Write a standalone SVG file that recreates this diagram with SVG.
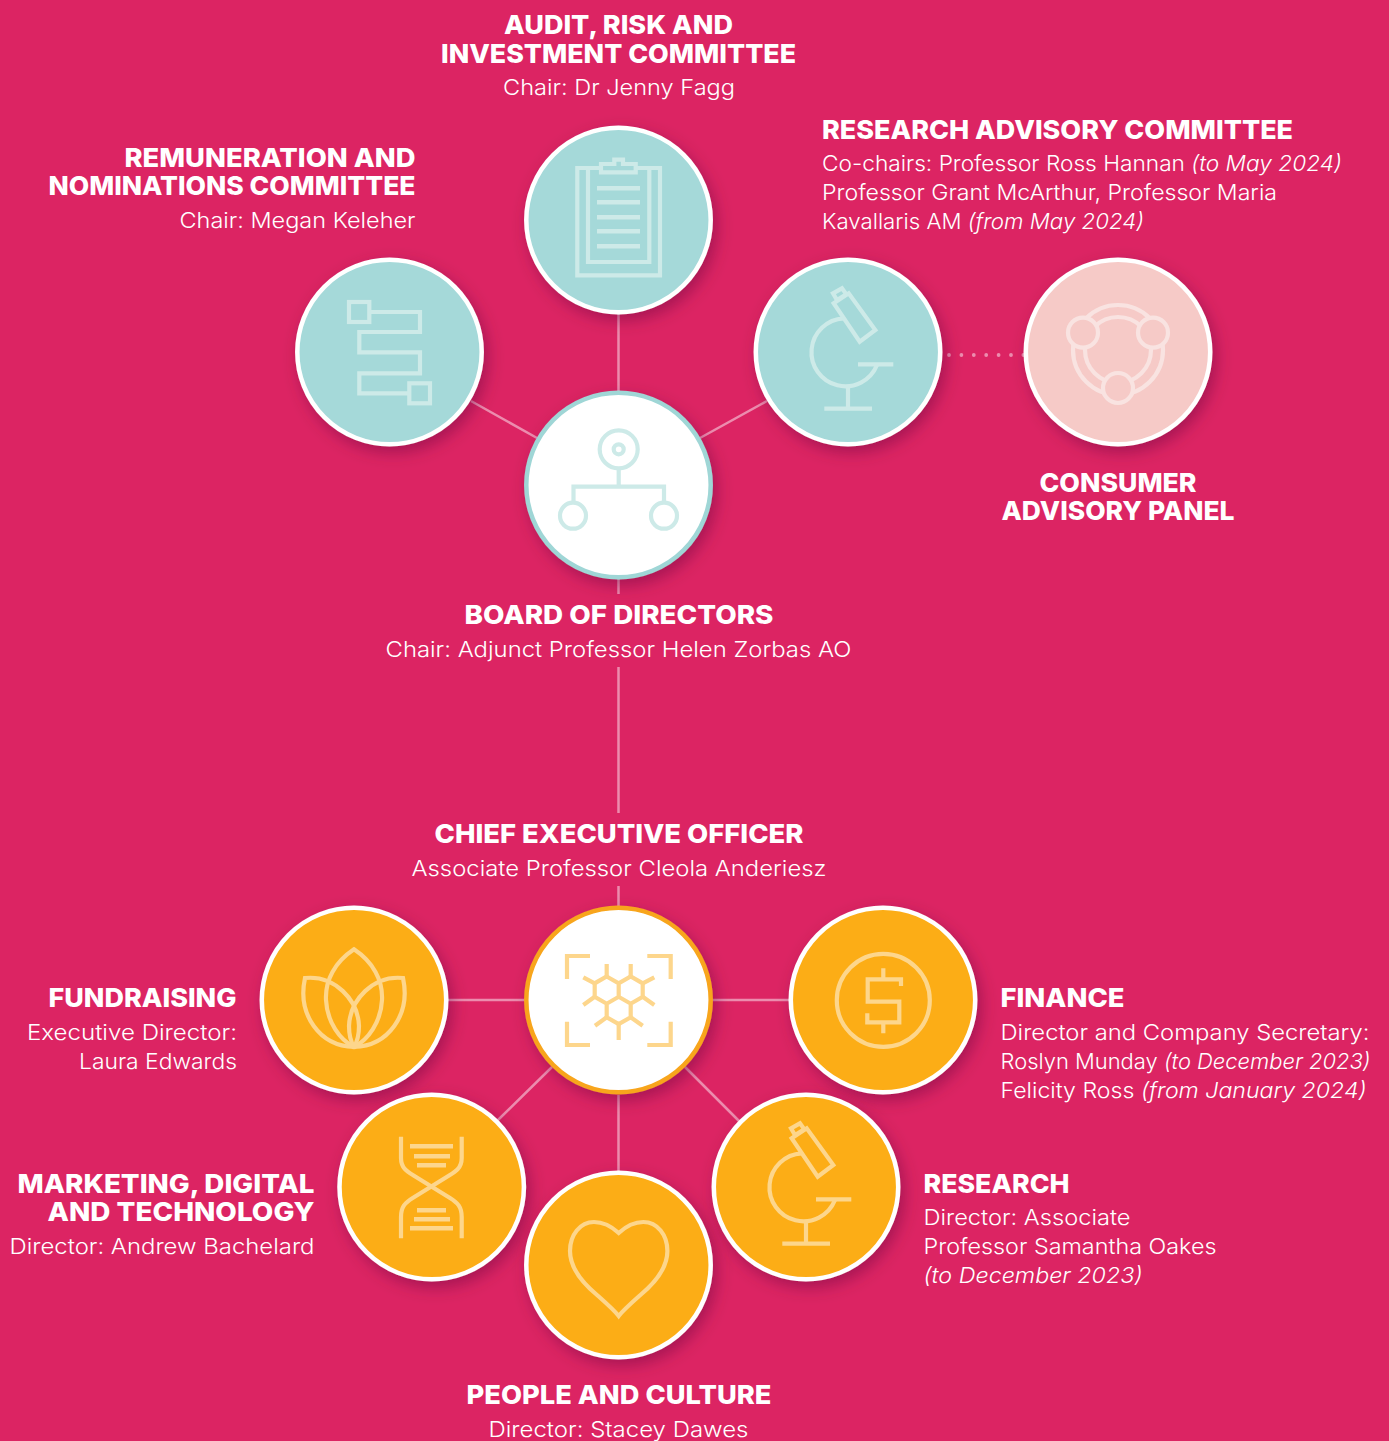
<svg xmlns="http://www.w3.org/2000/svg" xmlns:xlink="http://www.w3.org/1999/xlink" width="1389" height="1441" viewBox="0 0 1389 1441">
<style>
.h{font-family:Inter,"Liberation Sans",sans-serif;font-weight:800;font-size:26px;fill:#fff}
.b{font-family:Inter,"Liberation Sans",sans-serif;font-weight:300;font-size:22px;fill:#fff}
.i{font-style:italic}
.m{text-anchor:middle}.e{text-anchor:end}
.disc{stroke-width:4.500;filter:url(#sh)}
.teal{fill:#a5d9d9;stroke:#fff}.peach{fill:#f6cac7;stroke:#fff}.orange{fill:#fcad17;stroke:#fff}
.bw{fill:#fff;stroke:#9fd6d6}.co{fill:#fff;stroke:#f8a51b}
.icon{fill:none;stroke-width:4.200}
.it{stroke:#cdeae8}.ip{stroke:#f9e3e1}.io{stroke:#fdd68c}
.line{stroke:#ec8cae;stroke-width:2.500;fill:none}
.dot{stroke:#ec8cae;stroke-width:3.800;stroke-linecap:round;stroke-dasharray:0 12.400;fill:none}
</style>
<defs>
<filter id="sh" x="-30%" y="-30%" width="170%" height="170%"><feDropShadow dx="4" dy="6" stdDeviation="8" flood-color="#5a0f3a" flood-opacity="0.42"/></filter>
<g id="scope">
<path d="M-14.300-48.700L.7-58.700 27.300-22 11.700-10.300Z"/>
<path d="M-15-58.700L-6-63.700-1.700-57.700-11-52Z"/>
<path d="M-4.300-33.700A34 34 0 1 0 29 13"/>
<path d="M10 12.300H45.300M0 34V56.700M-23.700 56.700H24"/>
</g>
</defs>
<rect width="1389" height="1441" fill="#dc2463"/>
<g id="connectors">
<path class="line" d="M618.500 314V392M471 401L537 438M767 401L700 438M618.500 578V594M618.500 667V813M618.500 886V907M448 1000H525M712 1000H790M552 1067L498 1120M685 1067L739 1121M618.500 1095V1171"/>
<path class="dot" d="M949 355H1025"/>
</g>
<g id="audit">
<circle class="disc teal" cx="618.500" cy="220" r="92.200"/>
<g class="icon it">
<path d="M588 170V262H649.300V170M601 168H577.300V275.300H660V168H635.700"/>
<path d="M601 164H614.300V159.700H623V164H635.700V172.300H601Z"/>
<path stroke-width="4.500" d="M597 188.300H640M597 202.300H640M597 217.300H640M597 231.300H640M597 246.300H640"/>
</g>
<text class="h m" x="618.500" y="34" textLength="229" lengthAdjust="spacingAndGlyphs">AUDIT, RISK AND</text>
<text class="h m" x="618.500" y="63" textLength="355" lengthAdjust="spacingAndGlyphs">INVESTMENT COMMITTEE</text>
<text class="b m" x="619" y="95" textLength="232" lengthAdjust="spacingAndGlyphs">Chair: Dr Jenny Fagg</text>
</g>
<g id="remuneration">
<circle class="disc teal" cx="389.500" cy="352" r="92.200"/>
<g class="icon it">
<rect x="349" y="302" width="20.300" height="20"/>
<rect x="409.300" y="383.300" width="20.700" height="20"/>
<path d="M369.300 312H420V332H359.300V352.300H420V373.300H359.300V393.300H409.300"/>
</g>
<text class="h e" x="415.500" y="167" textLength="291" lengthAdjust="spacingAndGlyphs">REMUNERATION AND</text>
<text class="h e" x="415.500" y="195" textLength="367" lengthAdjust="spacingAndGlyphs">NOMINATIONS COMMITTEE</text>
<text class="b e" x="415.500" y="228" textLength="236" lengthAdjust="spacingAndGlyphs">Chair: Megan Keleher</text>
</g>
<g id="research-advisory">
<circle class="disc teal" cx="848" cy="352" r="92.200"/>
<use href="#scope" x="848" y="352" class="icon it"/>
<text class="h" x="822" y="139" textLength="471" lengthAdjust="spacingAndGlyphs">RESEARCH ADVISORY COMMITTEE</text>
<text class="b" x="822" y="171" textLength="520" lengthAdjust="spacingAndGlyphs">Co-chairs: Professor Ross Hannan <tspan class="i">(to May 2024)</tspan></text>
<text class="b" x="822" y="200" textLength="455" lengthAdjust="spacingAndGlyphs">Professor Grant McArthur, Professor Maria</text>
<text class="b" x="822" y="229" textLength="322" lengthAdjust="spacingAndGlyphs">Kavallaris AM <tspan class="i">(from May 2024)</tspan></text>
</g>
<g id="consumer">
<circle class="disc peach" cx="1118" cy="352" r="92.200"/>
<g class="icon ip">
<circle cx="1118" cy="350" r="45"/>
<circle cx="1118" cy="350" r="33"/>
<circle cx="1083" cy="332.700" r="15" fill="#f6cac7"/>
<circle cx="1153" cy="332.700" r="15" fill="#f6cac7"/>
<circle cx="1118" cy="388" r="15" fill="#f6cac7"/>
</g>
<text class="h m" x="1118" y="492" textLength="157" lengthAdjust="spacingAndGlyphs">CONSUMER</text>
<text class="h m" x="1118" y="520" textLength="233" lengthAdjust="spacingAndGlyphs">ADVISORY PANEL</text>
</g>
<g id="board">
<circle class="disc bw" cx="618.500" cy="485" r="92.200"/>
<g class="icon it">
<circle cx="618.700" cy="449.300" r="19"/>
<circle cx="618.700" cy="449.300" r="5"/>
<path d="M618.700 468.300V486.700M573.500 502V486.700H664V502"/>
<circle cx="573" cy="515.700" r="13"/>
<circle cx="664" cy="515.700" r="13"/>
</g>
<text class="h m" x="619" y="624" textLength="309" lengthAdjust="spacingAndGlyphs">BOARD OF DIRECTORS</text>
<text class="b m" x="618.500" y="657" textLength="466" lengthAdjust="spacingAndGlyphs">Chair: Adjunct Professor Helen Zorbas AO</text>
</g>
<g id="ceo">
<circle class="disc co" cx="618.500" cy="1000" r="92.200"/>
<g class="icon io">
<path d="M590 956H567V979M647.300 956H670.700V979M590 1045H567V1021.700M647.300 1045H670.700V1021.700"/>
<path d="M606.700 976.500L618.700 983.300 630.700 976.500 642.700 983.300V996.800L630.700 1003.700 618.700 996.800 606.700 1003.700 594.700 996.800V983.300ZM618.700 983.300V996.800M606.700 1003.700V1017.300L618.700 1024 630.700 1017.300V1003.700"/>
<path d="M606.700 976.500V964M630.700 976.500V964M594.700 983.300L583.300 977.300M642.700 983.300L654.300 977.300M594.700 996.800L583.300 1005M642.700 996.800L654.300 1005M606.700 1017.300L595 1025.700M630.700 1017.300L642.700 1025.700M618.700 1024V1040"/>
</g>
<text class="h m" x="619" y="843" textLength="369" lengthAdjust="spacingAndGlyphs">CHIEF EXECUTIVE OFFICER</text>
<text class="b m" x="619" y="876" textLength="415" lengthAdjust="spacingAndGlyphs">Associate Professor Cleola Anderiesz</text>
</g>
<g id="fundraising">
<circle class="disc orange" cx="354" cy="1000" r="92.200"/>
<g class="icon io">
<path d="M354 949.300C335 962 325 980 326 1000C327 1022 340 1040 354 1047C368 1040 381 1022 382 1000C383 980 373 962 354 949.300Z"/>
<path d="M354 1047C320 1046 297 1015 305 978C335 975 358 1000 359 1026C359 1035 357 1042 354 1047Z"/>
<path d="M354 1047C388 1046 411 1015 403 978C373 975 350 1000 349 1026C349 1035 351 1042 354 1047Z"/>
</g>
<text class="h e" x="236.500" y="1007" textLength="188" lengthAdjust="spacingAndGlyphs">FUNDRAISING</text>
<text class="b e" x="237" y="1040" textLength="210" lengthAdjust="spacingAndGlyphs">Executive Director:</text>
<text class="b e" x="237" y="1069" textLength="158" lengthAdjust="spacingAndGlyphs">Laura Edwards</text>
</g>
<g id="finance">
<circle class="disc orange" cx="883" cy="1000" r="92.200"/>
<g class="icon io">
<circle cx="883.300" cy="1000.300" r="46.500"/>
<path d="M901 986V979.300H867.700V1001.700H899.300V1022.300H867.300V1013.300M883.300 968.300V979.300M883.300 1022.300V1033.300"/>
</g>
<text class="h" x="1000.500" y="1007" textLength="124" lengthAdjust="spacingAndGlyphs">FINANCE</text>
<text class="b" x="1000.500" y="1040" textLength="369" lengthAdjust="spacingAndGlyphs">Director and Company Secretary:</text>
<text class="b" x="1000.500" y="1069" textLength="370" lengthAdjust="spacingAndGlyphs">Roslyn Munday <tspan class="i">(to December 2023)</tspan></text>
<text class="b" x="1000.500" y="1098" textLength="366" lengthAdjust="spacingAndGlyphs">Felicity Ross <tspan class="i">(from January 2024)</tspan></text>
</g>
<g id="marketing">
<circle class="disc orange" cx="431.700" cy="1187" r="92.200"/>
<g class="icon io">
<path d="M401 1136.700V1158C401 1168 407 1171.500 414 1175.800L450 1198C458 1203 461.700 1207 461.700 1217V1238.300"/>
<path d="M461.700 1136.700V1158C461.700 1168 455.700 1171.500 448.700 1175.800L412.700 1198C404.700 1203 401 1207 401 1217V1238.300"/>
<path stroke-width="4.500" d="M410 1146.300H453M414 1156.300H450M417 1165.300H446M417 1210.300H446M414 1219.300H450M410 1228.300H453"/>
</g>
<text class="h e" x="314.500" y="1193" textLength="297" lengthAdjust="spacingAndGlyphs">MARKETING, DIGITAL</text>
<text class="h e" x="314.500" y="1221" textLength="267" lengthAdjust="spacingAndGlyphs">AND TECHNOLOGY</text>
<text class="b e" x="314.500" y="1254" textLength="305" lengthAdjust="spacingAndGlyphs">Director: Andrew Bachelard</text>
</g>
<g id="research">
<circle class="disc orange" cx="806" cy="1187" r="92.200"/>
<use href="#scope" x="806" y="1187" class="icon io"/>
<text class="h" x="923.500" y="1193" textLength="146" lengthAdjust="spacingAndGlyphs">RESEARCH</text>
<text class="b" x="923.500" y="1225" textLength="207" lengthAdjust="spacingAndGlyphs">Director: Associate</text>
<text class="b" x="923.500" y="1254" textLength="293" lengthAdjust="spacingAndGlyphs">Professor Samantha Oakes</text>
<text class="b i" x="923.500" y="1283" textLength="219" lengthAdjust="spacingAndGlyphs">(to December 2023)</text>
</g>
<g id="people">
<circle class="disc orange" cx="618.500" cy="1265" r="92.200"/>
<path class="icon io" d="M618.700 1233C610 1225 603 1222 594 1222C580 1222 570 1235 570 1251C570 1270 585 1285 597 1295C606 1303 614 1310 618.700 1316C623.400 1310 631.400 1303 640.400 1295C652.400 1285 667.400 1270 667.400 1251C667.400 1235 657.400 1222 643.400 1222C634.400 1222 627.400 1225 618.700 1233Z"/>
<text class="h m" x="619" y="1404" textLength="305" lengthAdjust="spacingAndGlyphs">PEOPLE AND CULTURE</text>
<text class="b m" x="618.500" y="1437" textLength="260" lengthAdjust="spacingAndGlyphs">Director: Stacey Dawes</text>
</g>
</svg>
